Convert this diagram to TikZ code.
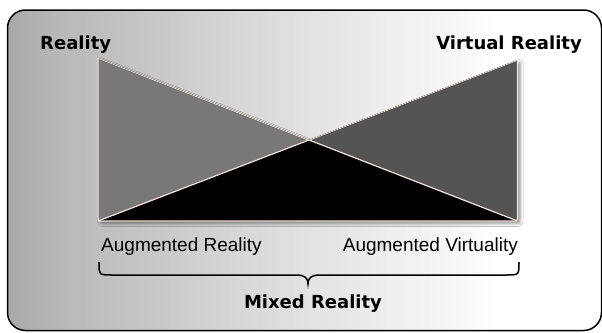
\documentclass[tikz,border=0pt]{standalone}
\usepackage{fontspec}
\setmainfont{Liberation Sans}
\newfontfamily\headfont{DejaVu Sans}
\usetikzlibrary{shadows.blur}
\colorlet{bgA}{black!34}
\colorlet{bgB}{black!28}
\colorlet{bgC}{black!22}
\colorlet{bgD}{black!16}
\colorlet{bgE}{black!11}
\colorlet{bgF}{black!6}
\colorlet{bgG}{black!3}
\definecolor{seamcol}{RGB}{240,226,220}
\colorlet{realfill}{black!53}
\colorlet{virtfill}{black!67}
\pgfdeclarehorizontalshading{backfade}{100bp}{color(0bp)=(bgA); color(25bp)=(bgA);
  color(29bp)=(bgB); color(37bp)=(bgC); color(44bp)=(bgD); color(51bp)=(bgE);
  color(58bp)=(bgF); color(63bp)=(bgG); color(66bp)=(white); color(100bp)=(white)}
\tikzset{
    heading/.style={inner sep=0pt,font=\headfont\bfseries\fontsize{18}{20}\selectfont},
    sublabel/.style={inner sep=0pt,font=\fontsize{19}{21}\selectfont},
    seam/.style={seamcol,line width=1.2pt},
    panel outline/.style={insert path={(rtop) -- (98,216) .. controls (rbot) .. (103,221)
        -- (512.5,221) .. controls (vbot) .. (517.5,216) -- (vtop) -- (mid) -- cycle}}
}

\begin{document}
\begin{tikzpicture}[x=1pt,y=-1pt]
    \useasboundingbox (0,0) rectangle (602,332);
    \shadedraw[shading=backfade,line width=1.5pt,rounded corners=18] (7.5,10) rectangle (601.5,330.5);
    % corners of the bow tie
    \coordinate (rtop) at (98,58);
    \coordinate (rbot) at (98,221);
    \coordinate (vtop) at (517.5,60);
    \coordinate (vbot) at (517.5,221);
    \coordinate (mid) at (intersection of rtop--vbot and vtop--rbot);
    \fill[black,blur shadow={shadow xshift=2.5pt,shadow yshift=-2.5pt,shadow blur radius=3pt,shadow opacity=45},panel outline];
    \begin{scope}
        \clip[panel outline];
        \fill[realfill] (rtop) -- (mid) -- (rbot) -- cycle;
        \fill[virtfill] (vtop) -- (mid) -- (vbot) -- cycle;
        \draw[seam] (rtop) -- (vbot) (vtop) -- (rbot);
    \end{scope}
    \draw[seam,line join=round] (rtop) -- (98,216) .. controls (rbot) .. (103,221)
        -- (512.5,221) .. controls (vbot) .. (517.5,216) -- (vtop);
    % labels
    \node[heading,anchor=base west] (real) at (40,49.5) {Reality};
    \node[heading,anchor=base east] (virt) at (582,49.5) {Virtual Reality};
    \node[sublabel,anchor=base west] (augreal) at (101,251) {Augmented Reality};
    \node[sublabel,anchor=base east] (augvirt) at (518,251) {Augmented Virtuality};
    \node[heading,anchor=base] (mixed) at (313,308) {Mixed Reality};
    % brace under both
    \coordinate (bl) at (99,262);
    \coordinate (br) at (519,262);
    \coordinate (tip) at (308,284);
    \draw[line width=1.5pt] (bl) .. controls (99,275) .. (112,275) -- (296,275)
        .. controls (305,275) and (308,278) .. (tip)
        .. controls (308,278) and (311,275) .. (320,275) -- (506,275)
        .. controls (519,275) .. (br);
\end{tikzpicture}
\end{document}
